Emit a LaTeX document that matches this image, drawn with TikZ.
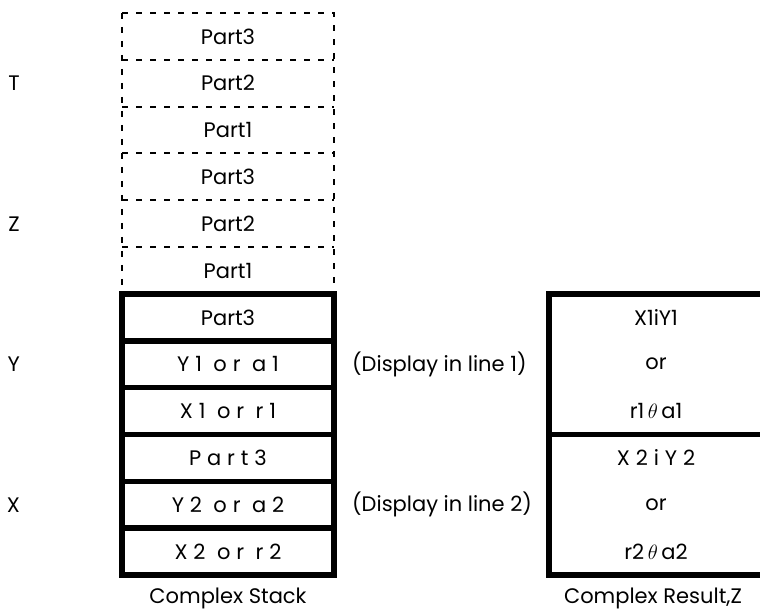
\documentclass[tikz,border=0pt]{standalone}
\usepackage{fontspec}
\setmainfont{Poppins}
\newfontfamily\spacedfont[LetterSpace=28]{Poppins}
\usetikzlibrary{positioning}

\begin{document}
\begin{tikzpicture}[
  x=1pt,y=-1pt,
  node distance=0pt,
  font=\fontsize{21}{24}\selectfont,
  cell/.style={minimum width=212pt,minimum height=46.83pt,inner sep=0pt,outer sep=0pt},
  rescell/.style={cell,minimum width=214pt},
  dashline/.style={line width=2pt,dash pattern=on 6pt off 8pt},
  boldline/.style={line width=5.5pt},
  side label/.style={inner sep=0pt}
]
\useasboundingbox (0,0) rectangle (760,612);
% stack cells, top to bottom
\node[cell] (t3) at (228,36.4) {Part3};
\node[cell,below=of t3] (t2) {Part2};
\node[cell,below=of t2] (t1) {Part1};
\node[cell,below=of t1] (z3) {Part3};
\node[cell,below=of z3] (z2) {Part2};
\node[cell,below=of z2] (z1) {Part1};
\node[cell,below=of z1] (y3) {Part3};
\node[cell,below=of y3] (y2) {\spacedfont Y1 or a1};
\node[cell,below=of y2] (y1) {\spacedfont X1 or r1};
\node[cell,below=of y1] (x3) {\spacedfont Part3};
\node[cell,below=of x3] (x2) {\spacedfont Y2 or a2};
\node[cell,below=of x2] (x1) {\spacedfont X2 or r2};
% result cells
\node[rescell,right=215pt of y3] (ra) {X1iY1};
\node[rescell,below=of ra] (rb) {or};
\node[rescell,below=of rb] (rc) {r1\,$\theta$\,a1};
\node[rescell,below=of rc] (rd) {\spacedfont X2iY2};
\node[rescell,below=of rd] (re) {or};
\node[rescell,below=of re] (rf) {r2\,$\theta$\,a2};
% register names
\node[side label,left=102pt of t2] (lt) {T};
\node[side label,left=102pt of z2] (lz) {Z};
\node[side label,left=102pt of y2] (ly) {Y};
\node[side label,left=102pt of x2] (lx) {X};
\node[side label,right=18pt of y2] (d1) {(Display in line 1)};
\node[side label,right=18pt of x2] (d2) {(Display in line 2)};
\node[side label,below=13pt of x1] (cs) {Complex Stack};
\node[side label,below=13pt of rf.south west,anchor=north,xshift=104pt] (cr) {Complex Result,Z};
% frames
\draw[dashline] (t3.north west) rectangle (z1.south east);
\foreach \c in {t3,t2,t1,z3,z2}
  \draw[dashline] (\c.south west) -- (\c.south east);
\draw[boldline] (y3.north west) rectangle (x1.south east);
\foreach \c in {y3,y2,y1,x3,x2}
  \draw[boldline] (\c.south west) -- (\c.south east);
\draw[boldline] (ra.north east) -- (ra.north west) -- (rf.south west) -- (rf.south east);
\draw[boldline] (rc.south west) -- (rc.south east);
\end{tikzpicture}
\end{document}
